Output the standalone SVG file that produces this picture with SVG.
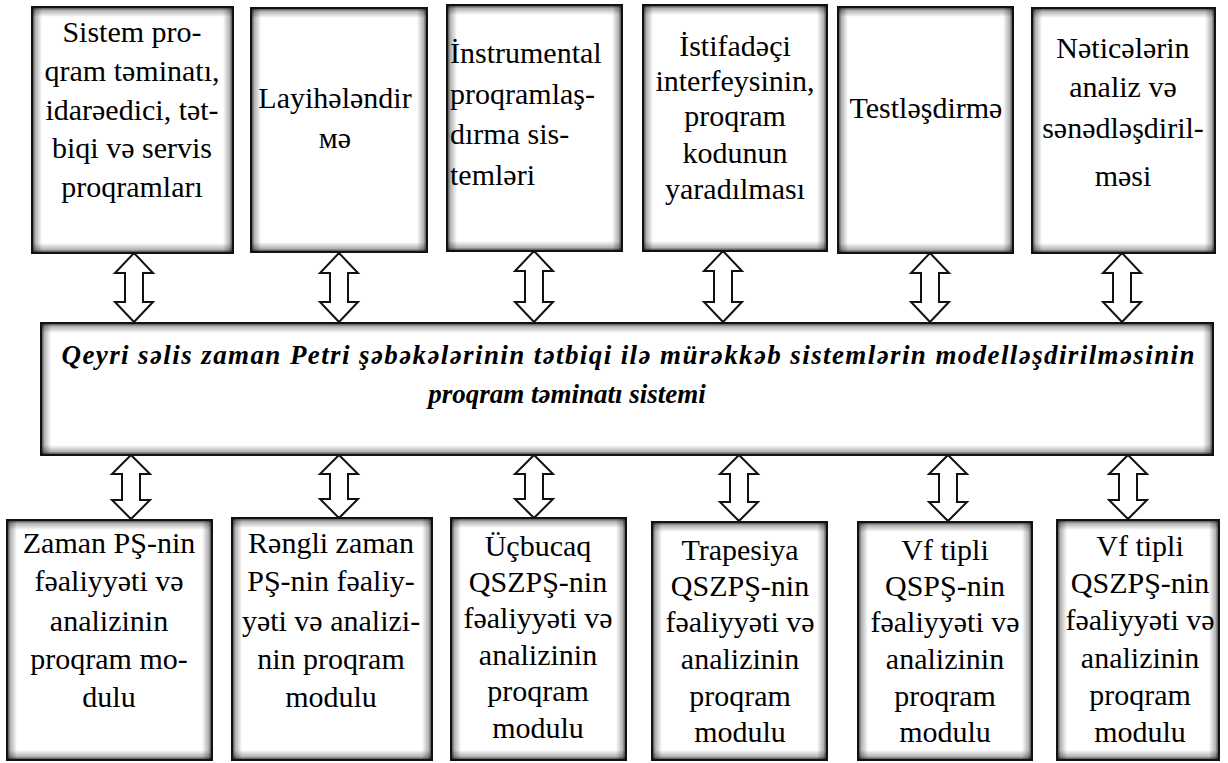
<svg xmlns="http://www.w3.org/2000/svg" width="1228" height="763" viewBox="0 0 1228 763">
<style>
.box{fill:#fff;stroke:none}
.frame{fill:none;stroke:#111;stroke-width:2}
.t{font-family:"Liberation Serif","Times New Roman",serif;font-size:30px;fill:#000;text-anchor:middle}
.tl{text-anchor:start}
.c{font-family:"Liberation Serif","Times New Roman",serif;font-size:27px;font-weight:bold;font-style:italic;fill:#000;text-anchor:middle}
.arr{fill:#fff;stroke:#111;stroke-width:2;stroke-linejoin:miter}
.sT{fill:url(#gT)}.sB{fill:url(#gB)}.sL{fill:url(#gL)}.sR{fill:url(#gR)}
</style>
<defs>
<linearGradient id="gT" x1="0" y1="0" x2="0" y2="1"><stop offset="0" stop-color="#000" stop-opacity=".8"/><stop offset=".35" stop-color="#000" stop-opacity=".3"/><stop offset="1" stop-color="#000" stop-opacity="0"/></linearGradient>
<linearGradient id="gB" x1="0" y1="1" x2="0" y2="0"><stop offset="0" stop-color="#000" stop-opacity=".8"/><stop offset=".35" stop-color="#000" stop-opacity=".3"/><stop offset="1" stop-color="#000" stop-opacity="0"/></linearGradient>
<linearGradient id="gL" x1="0" y1="0" x2="1" y2="0"><stop offset="0" stop-color="#000" stop-opacity=".8"/><stop offset=".35" stop-color="#000" stop-opacity=".3"/><stop offset="1" stop-color="#000" stop-opacity="0"/></linearGradient>
<linearGradient id="gR" x1="1" y1="0" x2="0" y2="0"><stop offset="0" stop-color="#000" stop-opacity=".8"/><stop offset=".35" stop-color="#000" stop-opacity=".3"/><stop offset="1" stop-color="#000" stop-opacity="0"/></linearGradient>
</defs>
<rect width="1228" height="763" fill="#fff"/>

<g id="connectors">
<path class="arr" d="M134,253 L153,273 L143,273 L143,302 L153,302 L134,322 L115,302 L125,302 L125,273 L115,273 Z"/>
<path class="arr" d="M339,253 L358,273 L348,273 L348,302 L358,302 L339,322 L320,302 L330,302 L330,273 L320,273 Z"/>
<path class="arr" d="M534,251 L553,271 L543,271 L543,302 L553,302 L534,322 L515,302 L525,302 L525,271 L515,271 Z"/>
<path class="arr" d="M723,251 L742,271 L732,271 L732,302 L742,302 L723,322 L704,302 L714,302 L714,271 L704,271 Z"/>
<path class="arr" d="M930,253 L949,273 L939,273 L939,302 L949,302 L930,322 L911,302 L921,302 L921,273 L911,273 Z"/>
<path class="arr" d="M1122,253 L1141,273 L1131,273 L1131,302 L1141,302 L1122,322 L1103,302 L1113,302 L1113,273 L1103,273 Z"/>
<path class="arr" d="M131,455 L150,474 L140,474 L140,500 L150,500 L131,519 L112,500 L122,500 L122,474 L112,474 Z"/>
<path class="arr" d="M339,455 L358,474 L348,474 L348,499 L358,499 L339,518 L320,499 L330,499 L330,474 L320,474 Z"/>
<path class="arr" d="M534,455 L553,474 L543,474 L543,499 L553,499 L534,518 L515,499 L525,499 L525,474 L515,474 Z"/>
<path class="arr" d="M739,455 L758,474 L748,474 L748,502 L758,502 L739,521 L720,502 L730,502 L730,474 L720,474 Z"/>
<path class="arr" d="M948,455 L967,474 L957,474 L957,502 L967,502 L948,521 L929,502 L939,502 L939,474 L929,474 Z"/>
<path class="arr" d="M1128,455 L1147,474 L1137,474 L1137,500 L1147,500 L1128,519 L1109,500 L1119,500 L1119,474 L1109,474 Z"/>
</g>

<g id="top1">
<rect class="box" x="32" y="7" width="201" height="246"/>
<rect class="sT" x="32" y="7" width="201" height="10"/><rect class="sB" x="32" y="243" width="201" height="10"/><rect class="sL" x="32" y="7" width="10" height="246"/><rect class="sR" x="223" y="7" width="10" height="246"/>
<rect class="frame" x="32" y="7" width="201" height="246"/>
<text class="t" x="132" y="42">Sistem pro-</text>
<text class="t" x="132" y="81">qram təminatı,</text>
<text class="t" x="132" y="120">idarəedici, tət-</text>
<text class="t" x="132" y="158">biqi və servis</text>
<text class="t" x="132" y="197">proqramları</text>
</g>
<g id="top2">
<rect class="box" x="251" y="8" width="176" height="244"/>
<rect class="sT" x="251" y="8" width="176" height="10"/><rect class="sB" x="251" y="242" width="176" height="10"/><rect class="sL" x="251" y="8" width="10" height="244"/><rect class="sR" x="417" y="8" width="10" height="244"/>
<rect class="frame" x="251" y="8" width="176" height="244"/>
<text class="t" x="335" y="108">Layihələndir</text>
<text class="t" x="335" y="148">мə</text>
</g>
<g id="top3">
<rect class="box" x="447" y="5" width="175" height="246"/>
<rect class="sT" x="447" y="5" width="175" height="10"/><rect class="sB" x="447" y="241" width="175" height="10"/><rect class="sL" x="447" y="5" width="10" height="246"/><rect class="sR" x="612" y="5" width="10" height="246"/>
<rect class="frame" x="447" y="5" width="175" height="246"/>
<text class="t tl" x="450" y="63">İnstrumental</text>
<text class="t tl" x="450" y="104">proqramlaş-</text>
<text class="t tl" x="450" y="144">dırma sis-</text>
<text class="t tl" x="450" y="185">temləri</text>
</g>
<g id="top4">
<rect class="box" x="643" y="5" width="184" height="246"/>
<rect class="sT" x="643" y="5" width="184" height="10"/><rect class="sB" x="643" y="241" width="184" height="10"/><rect class="sL" x="643" y="5" width="10" height="246"/><rect class="sR" x="817" y="5" width="10" height="246"/>
<rect class="frame" x="643" y="5" width="184" height="246"/>
<text class="t" x="735" y="56">İstifadəçi</text>
<text class="t" x="735" y="91">interfeysinin,</text>
<text class="t" x="735" y="126">proqram</text>
<text class="t" x="735" y="163">kodunun</text>
<text class="t" x="735" y="199">yaradılması</text>
</g>
<g id="top5">
<rect class="box" x="838" y="7" width="175" height="246"/>
<rect class="sT" x="838" y="7" width="175" height="10"/><rect class="sB" x="838" y="243" width="175" height="10"/><rect class="sL" x="838" y="7" width="10" height="246"/><rect class="sR" x="1003" y="7" width="10" height="246"/>
<rect class="frame" x="838" y="7" width="175" height="246"/>
<text class="t" x="926" y="118">Testləşdirmə</text>
</g>
<g id="top6">
<rect class="box" x="1032" y="8" width="183" height="245"/>
<rect class="sT" x="1032" y="8" width="183" height="10"/><rect class="sB" x="1032" y="243" width="183" height="10"/><rect class="sL" x="1032" y="8" width="10" height="245"/><rect class="sR" x="1205" y="8" width="10" height="245"/>
<rect class="frame" x="1032" y="8" width="183" height="245"/>
<text class="t" x="1123" y="58">Nəticələrin</text>
<text class="t" x="1123" y="97">analiz və</text>
<text class="t" x="1123" y="138">sənədləşdiril-</text>
<text class="t" x="1123" y="186">məsi</text>
</g>

<g id="center">
<rect class="box" x="41" y="323" width="1172" height="132"/>
<rect class="sT" x="41" y="323" width="1172" height="10"/><rect class="sB" x="41" y="445" width="1172" height="10"/><rect class="sL" x="41" y="323" width="10" height="132"/><rect class="sR" x="1203" y="323" width="10" height="132"/>
<rect class="frame" x="41" y="323" width="1172" height="132"/>
<text class="c" x="628" y="364" textLength="1133" lengthAdjust="spacing">Qeyri səlis  zaman Petri şəbəkələrinin  tətbiqi ilə mürəkkəb sistemlərin modelləşdirilməsinin</text>
<text class="c" x="567" y="403">proqram təminatı sistemi</text>
</g>

<g id="bot1">
<rect class="box" x="7" y="520" width="205" height="240"/>
<rect class="sT" x="7" y="520" width="205" height="10"/><rect class="sB" x="7" y="750" width="205" height="10"/><rect class="sL" x="7" y="520" width="10" height="240"/><rect class="sR" x="202" y="520" width="10" height="240"/>
<rect class="frame" x="7" y="520" width="205" height="240"/>
<text class="t" x="109" y="553">Zaman PŞ-nin</text>
<text class="t" x="109" y="591">fəaliyyəti və</text>
<text class="t" x="109" y="631">analizinin</text>
<text class="t" x="109" y="669">proqram mo-</text>
<text class="t" x="109" y="707">dulu</text>
</g>
<g id="bot2">
<rect class="box" x="232" y="518" width="200" height="242"/>
<rect class="sT" x="232" y="518" width="200" height="10"/><rect class="sB" x="232" y="750" width="200" height="10"/><rect class="sL" x="232" y="518" width="10" height="242"/><rect class="sR" x="422" y="518" width="10" height="242"/>
<rect class="frame" x="232" y="518" width="200" height="242"/>
<text class="t" x="331" y="553">Rəngli zaman</text>
<text class="t" x="331" y="591">PŞ-nin fəaliy-</text>
<text class="t" x="331" y="631">yəti və analizi-</text>
<text class="t" x="331" y="669">nin proqram</text>
<text class="t" x="331" y="707">modulu</text>
</g>
<g id="bot3">
<rect class="box" x="451" y="518" width="175" height="242"/>
<rect class="sT" x="451" y="518" width="175" height="10"/><rect class="sB" x="451" y="750" width="175" height="10"/><rect class="sL" x="451" y="518" width="10" height="242"/><rect class="sR" x="616" y="518" width="10" height="242"/>
<rect class="frame" x="451" y="518" width="175" height="242"/>
<text class="t" x="538" y="556">Üçbucaq</text>
<text class="t" x="538" y="592">QSZPŞ-nin</text>
<text class="t" x="538" y="628">fəaliyyəti və</text>
<text class="t" x="538" y="665">analizinin</text>
<text class="t" x="538" y="701">proqram</text>
<text class="t" x="538" y="738">modulu</text>
</g>
<g id="bot4">
<rect class="box" x="652" y="522" width="175" height="238"/>
<rect class="sT" x="652" y="522" width="175" height="10"/><rect class="sB" x="652" y="750" width="175" height="10"/><rect class="sL" x="652" y="522" width="10" height="238"/><rect class="sR" x="817" y="522" width="10" height="238"/>
<rect class="frame" x="652" y="522" width="175" height="238"/>
<text class="t" x="740" y="560">Trapesiya</text>
<text class="t" x="740" y="596">QSZPŞ-nin</text>
<text class="t" x="740" y="632">fəaliyyəti və</text>
<text class="t" x="740" y="669">analizinin</text>
<text class="t" x="740" y="706">proqram</text>
<text class="t" x="740" y="742">modulu</text>
</g>
<g id="bot5">
<rect class="box" x="858" y="522" width="174" height="238"/>
<rect class="sT" x="858" y="522" width="174" height="10"/><rect class="sB" x="858" y="750" width="174" height="10"/><rect class="sL" x="858" y="522" width="10" height="238"/><rect class="sR" x="1022" y="522" width="10" height="238"/>
<rect class="frame" x="858" y="522" width="174" height="238"/>
<text class="t" x="945" y="560">Vf tipli</text>
<text class="t" x="945" y="596">QSPŞ-nin</text>
<text class="t" x="945" y="632">fəaliyyəti və</text>
<text class="t" x="945" y="669">analizinin</text>
<text class="t" x="945" y="706">proqram</text>
<text class="t" x="945" y="742">modulu</text>
</g>
<g id="bot6">
<rect class="box" x="1057" y="520" width="162" height="240"/>
<rect class="sT" x="1057" y="520" width="162" height="10"/><rect class="sB" x="1057" y="750" width="162" height="10"/><rect class="sL" x="1057" y="520" width="10" height="240"/><rect class="sR" x="1209" y="520" width="10" height="240"/>
<rect class="frame" x="1057" y="520" width="162" height="240"/>
<text class="t" x="1140" y="556">Vf tipli</text>
<text class="t" x="1140" y="593">QSZPŞ-nin</text>
<text class="t" x="1140" y="630">fəaliyyəti və</text>
<text class="t" x="1140" y="668">analizinin</text>
<text class="t" x="1140" y="705">proqram</text>
<text class="t" x="1140" y="742">modulu</text>
</g>
</svg>
